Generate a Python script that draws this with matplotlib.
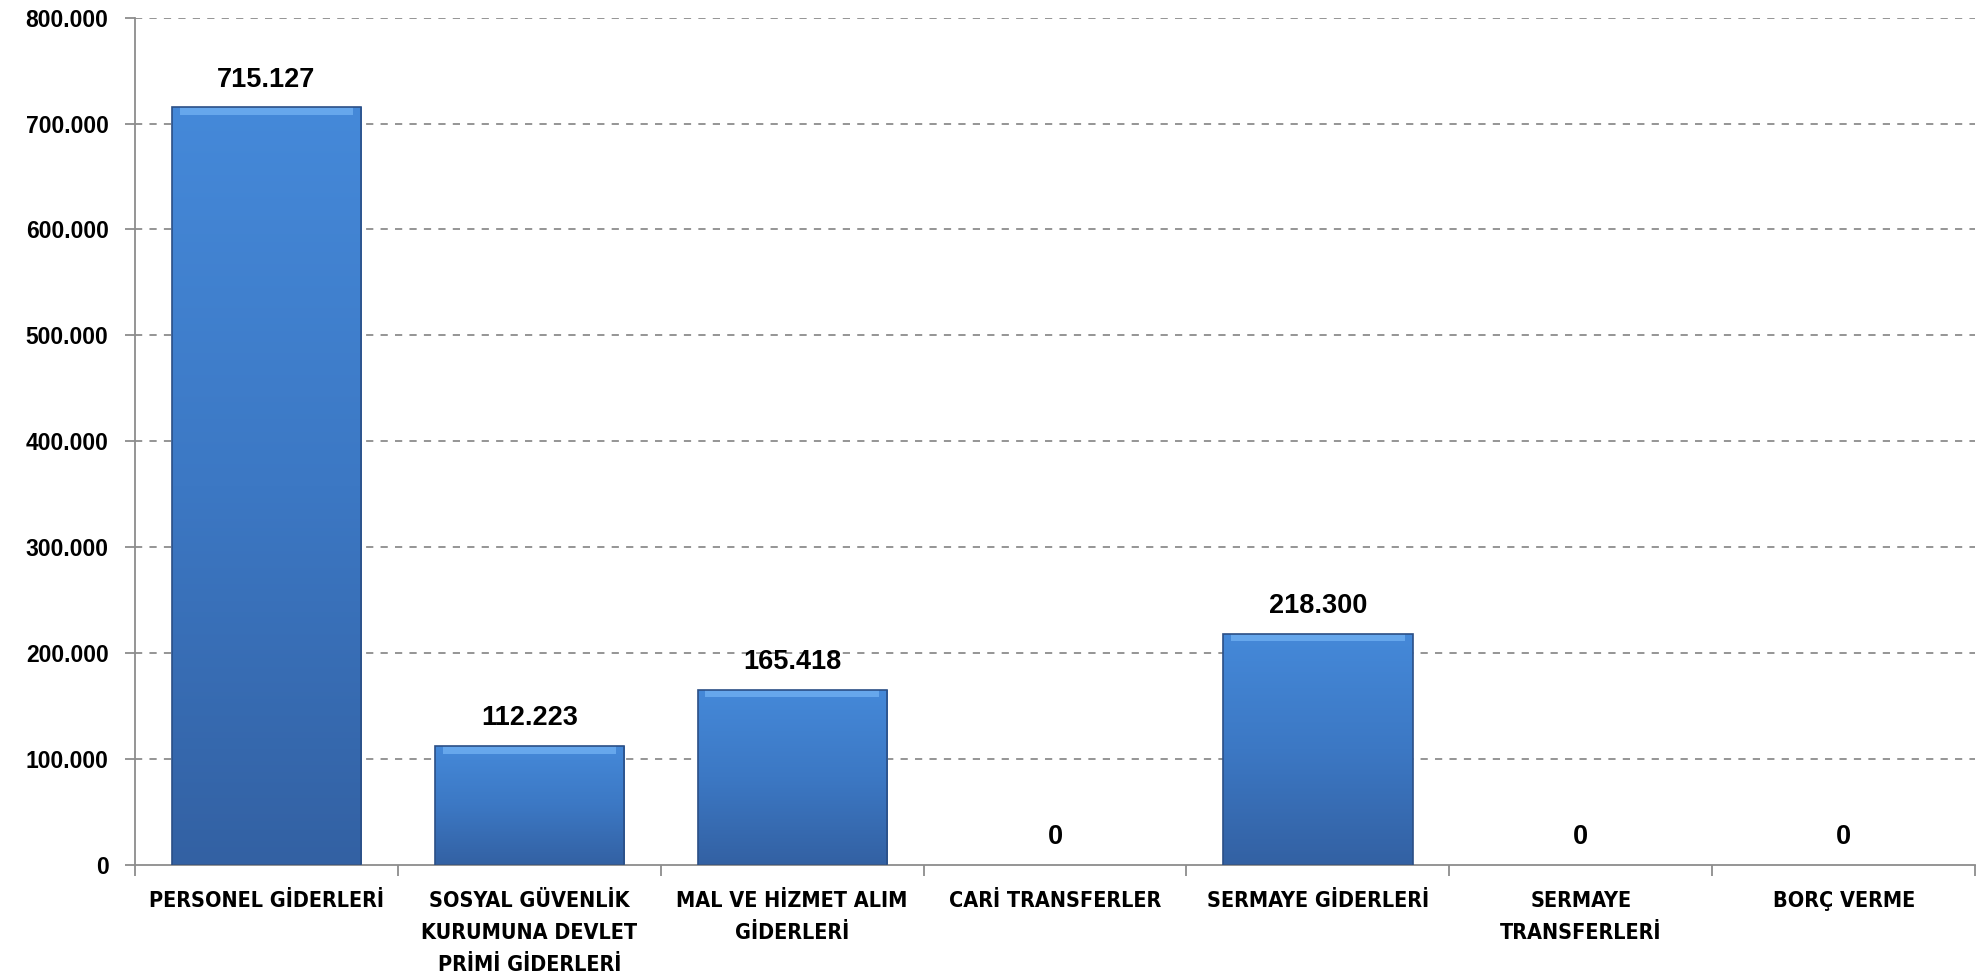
import numpy as np
import matplotlib
matplotlib.use("Agg")
import matplotlib.pyplot as plt
from matplotlib.colors import LinearSegmentedColormap
from matplotlib.ticker import FuncFormatter

# Chart data
categories = [
    "PERSONEL GİDERLERİ",
    "SOSYAL GÜVENLİK\nKURUMUNA DEVLET\nPRİMİ GİDERLERİ",
    "MAL VE HİZMET ALIM\nGİDERLERİ",
    "CARİ TRANSFERLER",
    "SERMAYE GİDERLERİ",
    "SERMAYE\nTRANSFERLERİ",
    "BORÇ VERME",
]
values = [715127, 112223, 165418, 0, 218300, 0, 0]
y_ticks = [0, 100000, 200000, 300000, 400000, 500000, 600000, 700000, 800000]


def tr_format(v, pos=None):
    # Turkish thousands separator
    return "{:,.0f}".format(v).replace(",", ".")


fig = plt.figure(figsize=(19.85, 9.77), dpi=100)
ax = fig.add_axes([0.068, 0.1146, 0.927, 0.8674])

x = np.arange(len(categories))
width = 0.72
edge_cols = ["#2b4f86" if v > 0 else "none" for v in values]
bars = ax.bar(x, values, width=width, color="none", edgecolor=edge_cols, linewidth=1.2, zorder=3)

# vertical gradient inside each bar
grad_cmap = LinearSegmentedColormap.from_list("barblue", ["#3361a3", "#3c78c4", "#4589d9"])
grad = np.linspace(0, 1, 256).reshape(-1, 1)
for b, v in zip(bars, values):
    if v <= 0:
        continue
    x0 = b.get_x()
    im = ax.imshow(grad, cmap=grad_cmap, origin="lower", aspect="auto",
                   extent=[x0, x0 + width, 0, v], zorder=2)
    im.set_clip_path(b)
    # light bevel at top
    ax.fill_between([x0 + 0.03, x0 + width - 0.03], v - 7000, v, color="#6fb0f2", alpha=0.8, zorder=2.5, linewidth=0)

for xi, v in zip(x, values):
    ax.text(xi, v + 14000, tr_format(v), ha="center", va="bottom",
            fontsize=19.5, fontweight="bold", family="Liberation Sans", color="black")

ax.set_xlim(-0.5, len(categories) - 0.5)
ax.set_ylim(0, 800000)
ax.set_yticks(y_ticks)
ax.yaxis.set_major_formatter(FuncFormatter(tr_format))
for t in ax.get_yticklabels():
    t.set_fontsize(16.5)
    t.set_fontweight("bold")
    t.set_family("Liberation Sans")

# grid lines
for yv in y_ticks[1:]:
    ax.axhline(yv, color="#8c8c8c", linestyle=(0, (4, 4)), linewidth=1.3, zorder=1)

ax.set_xticks(x)
ax.set_xticklabels(categories)
for t in ax.get_xticklabels():
    t.set_fontsize(15.5)
    t.set_fontweight("bold")
    t.set_family("DejaVu Sans")
    t.set_fontstretch("condensed")
    t.set_linespacing(1.75)
ax.set_xticks(np.arange(-0.5, len(categories)), minor=True)
ax.tick_params(axis="x", which="major", length=0, pad=19)
ax.tick_params(axis="x", which="minor", length=8, color="#8c8c8c", width=1.3)
ax.tick_params(axis="y", length=7, color="#8c8c8c", width=1.3, pad=12)

for side in ["top", "right"]:
    ax.spines[side].set_visible(False)
ax.spines["left"].set_color("#8c8c8c")
ax.spines["bottom"].set_color("#8c8c8c")
ax.spines["left"].set_linewidth(1.3)
ax.spines["bottom"].set_linewidth(1.3)

fig.savefig("out.png", dpi=100)
